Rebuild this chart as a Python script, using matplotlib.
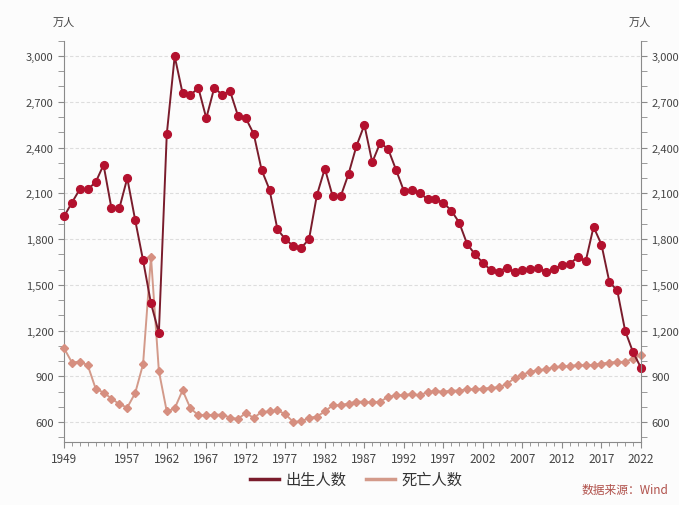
import matplotlib
matplotlib.use("Agg")
import matplotlib.pyplot as plt
from matplotlib.lines import Line2D
from matplotlib.ticker import FuncFormatter, MultipleLocator

plt.rcParams['font.family'] = ['Noto Sans CJK SC', 'DejaVu Sans']

# Data (万人)
years = list(range(1949, 2023))
births = [1948, 2039, 2127, 2127, 2172, 2286, 2002, 2002, 2199, 1925,
          1661, 1379, 1185, 2487, 2998, 2756, 2745, 2790, 2592, 2790,
          2747, 2771, 2609, 2592, 2489, 2253, 2124, 1864, 1799, 1755,
          1742, 1799, 2089, 2262, 2079, 2079, 2227, 2410, 2548, 2303,
          2430, 2391, 2255, 2115, 2124, 2102, 2061, 2065, 2037, 1987,
          1908, 1768, 1700, 1644, 1596, 1587, 1613, 1583, 1596, 1607,
          1613, 1585, 1602, 1633, 1637, 1683, 1653, 1880, 1764, 1519,
          1463, 1198, 1058, 956]
deaths = [1085, 991, 997, 973, 820, 794, 755, 718, 696, 790,
          980, 1685, 935, 670, 690, 809, 690, 646, 646, 648,
          650, 630, 621, 660, 628, 667, 670, 678, 652, 602,
          605, 628, 637, 670, 711, 712, 722, 735, 733, 730,
          735, 765, 777, 777, 785, 775, 798, 803, 800, 807,
          807, 816, 816, 820, 825, 829, 849, 888, 910, 932,
          940, 947, 960, 965, 969, 973, 973, 975, 984, 991,
          995, 995, 1017, 1039]
xtick_years = [1949, 1957, 1962, 1967, 1972, 1977, 1982, 1987, 1992,
               1997, 2002, 2007, 2012, 2017, 2022]

birth_line = '#7a1c2c'
birth_dot = '#b3112e'
death_line = '#d39a8a'
death_dot = '#d68f80'
axis_col = '#8a8a8a'
text_col = '#444444'

fig = plt.figure(figsize=(6.79, 5.06), dpi=100, facecolor='#fcfcfc')
ax = fig.add_axes([0.0943, 0.1245, 0.8497, 0.7931])
ax.set_facecolor('#fcfcfc')

ax.plot(years, deaths, color=death_line, lw=1.4, marker='D', ms=4.0,
        mfc=death_dot, mec=death_dot, zorder=3, clip_on=False)
ax.plot(years, births, color=birth_line, lw=1.4, marker='o', ms=5.6,
        mfc=birth_dot, mec=birth_dot, zorder=4, clip_on=False)

ax.set_xlim(1949, 2022)
ax.set_ylim(470, 3100)
ax.set_xticks(xtick_years)
ax.xaxis.set_minor_locator(MultipleLocator(1))
ax.yaxis.set_major_locator(MultipleLocator(300))
ax.yaxis.set_minor_locator(MultipleLocator(100))
fmt = FuncFormatter(lambda v, p: f'{int(v):,}')
ax.yaxis.set_major_formatter(fmt)
ax.set_yticks(range(600, 3001, 300))
ax.grid(axis='y', which='major', color='#dddddd', ls=(0, (3, 2)), lw=0.8)

for s in ['top', 'right']:
    ax.spines[s].set_visible(False)
for s in ['left', 'bottom']:
    ax.spines[s].set_color(axis_col)
ax.tick_params(axis='both', which='both', colors=axis_col, labelcolor=text_col,
               labelsize=8, direction='out')
ax.tick_params(axis='y', which='major', length=4)
ax.tick_params(axis='y', which='minor', length=4)
ax.tick_params(axis='x', which='major', length=4, labelsize=8.5, pad=3)
ax.tick_params(axis='x', which='minor', length=3)

ax2 = ax.twinx()
ax2.set_ylim(ax.get_ylim())
ax2.yaxis.set_major_locator(MultipleLocator(300))
ax2.yaxis.set_minor_locator(MultipleLocator(100))
ax2.set_yticks(range(600, 3001, 300))
ax2.yaxis.set_major_formatter(fmt)
for s in ['top', 'left', 'bottom']:
    ax2.spines[s].set_visible(False)
ax2.spines['right'].set_color(axis_col)
ax2.tick_params(axis='y', which='both', colors=axis_col, labelcolor=text_col,
                labelsize=8, length=4)

fig.text(0.094, 0.948, '万人', fontsize=8, color=text_col, ha='center')
fig.text(0.942, 0.948, '万人', fontsize=8, color=text_col, ha='center')

handles = [Line2D([], [], color=birth_line, lw=2.5),
           Line2D([], [], color=death_line, lw=2.5)]
fig.legend(handles, ['出生人数', '死亡人数'], loc='center',
           bbox_to_anchor=(0.525, 0.05), ncol=2, frameon=False,
           fontsize=11, handlelength=1.9, handletextpad=0.4,
           columnspacing=1.3, labelcolor='#333333')

fig.text(0.985, 0.018, '数据来源：Wind', fontsize=8.5, color='#b0504a',
         ha='right', va='bottom')

fig.savefig('out.png', dpi=100, facecolor=fig.get_facecolor())
